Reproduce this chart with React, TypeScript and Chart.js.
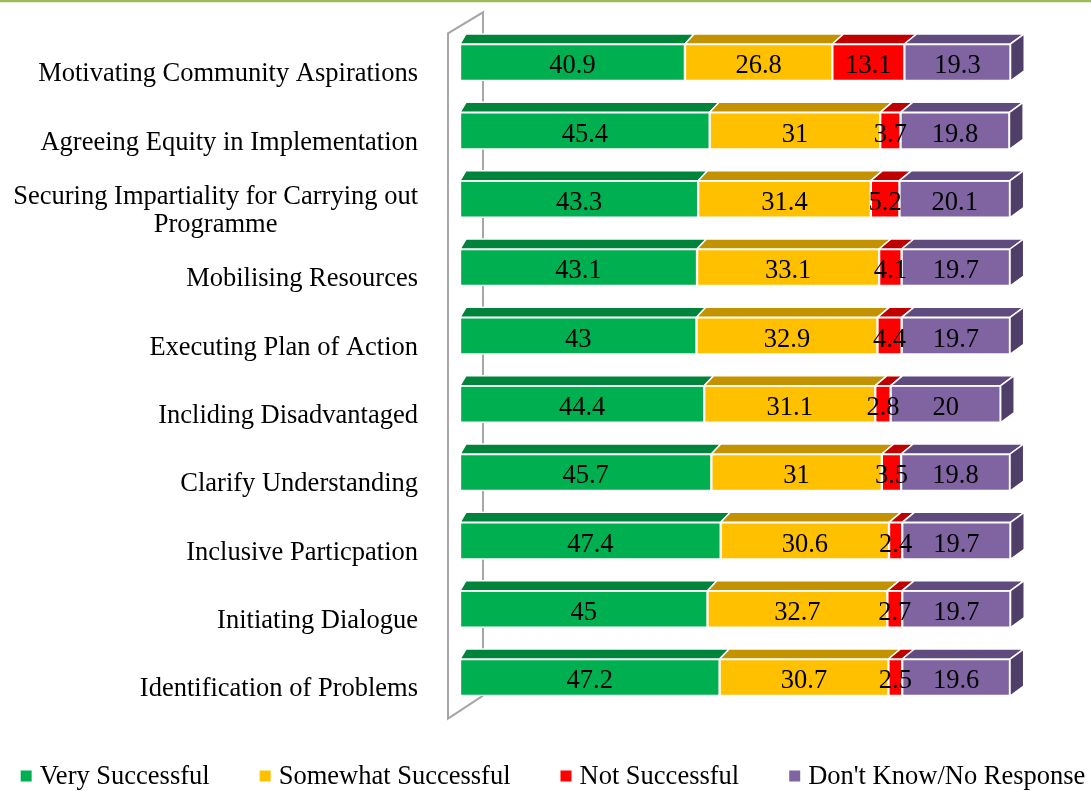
import React, { useEffect, useRef } from "react";
import { Chart, registerables } from "chart.js";

Chart.register(...registerables);

const categories: (string | string[])[] = [
  "Motivating Community Aspirations",
  "Agreeing Equity in Implementation",
  ["Securing Impartiality for Carrying out", "Programme"],
  "Mobilising Resources",
  "Executing Plan of Action",
  "Incliding Disadvantaged",
  "Clarify Understanding",
  "Inclusive Particpation",
  "Initiating Dialogue",
  "Identification of Problems",
];

const seriesLabels = ["Very Successful", "Somewhat Successful", "Not Successful", "Don't Know/No Response"];
const verySuccessful = [40.9, 45.4, 43.3, 43.1, 43, 44.4, 45.7, 47.4, 45, 47.2];
const somewhatSuccessful = [26.8, 31, 31.4, 33.1, 32.9, 31.1, 31, 30.6, 32.7, 30.7];
const notSuccessful = [13.1, 3.7, 5.2, 4.1, 4.4, 2.8, 3.5, 2.4, 2.7, 2.5];
const dontKnow = [19.3, 19.8, 20.1, 19.7, 19.7, 20, 19.8, 19.7, 19.7, 19.6];

const frontColors = ["#00B050", "#FFC000", "#FF0000", "#8064A2"];
const topColors = ["#00843C", "#C29200", "#C00000", "#5F4B7D"];
const sideColor = "#4F3E67";
const FONT = '"Liberation Serif", "Times New Roman", serif';
const FS = 26.5;

const depthX = (x: number, left: number) => 6 + (x - left) * 0.014;
const DY = 10;

const threeD = {
  id: "threeD",
  beforeDatasetsDraw(chart: any) {
    const ctx = chart.ctx;
    const { left, top, bottom } = chart.chartArea;
    ctx.save();
    ctx.strokeStyle = "#9BBB59";
    ctx.lineWidth = 2.5;
    ctx.beginPath();
    ctx.moveTo(0, 1);
    ctx.lineTo(chart.width, 1);
    ctx.stroke();

    ctx.strokeStyle = "#A6A6A6";
    ctx.lineWidth = 2;
    const fx = left - 12;
    const bx = left + 23;
    ctx.beginPath();
    ctx.moveTo(bx, bottom - 16);
    ctx.lineTo(bx, top - 16);
    ctx.lineTo(fx, top + 5);
    ctx.lineTo(fx, bottom + 7);
    ctx.lineTo(bx, bottom - 16);
    ctx.stroke();
    ctx.restore();
  },
  afterDatasetsDraw(chart: any) {
    const ctx = chart.ctx;
    const left = chart.chartArea.left;
    ctx.save();
    ctx.lineWidth = 1.5;
    ctx.strokeStyle = "#FFFFFF";
    ctx.lineJoin = "round";
    const n = chart.data.labels.length;
    const nd = chart.data.datasets.length;
    for (let i = 0; i < n; i++) {
      for (let d = 0; d < nd; d++) {
        const el = chart.getDatasetMeta(d).data[i];
        const p = el.getProps(["x", "base", "y", "height"], true);
        const x0 = Math.min(p.x, p.base);
        const x1 = Math.max(p.x, p.base);
        const yt = p.y - p.height / 2;
        const yb = p.y + p.height / 2;
        ctx.fillStyle = topColors[d];
        ctx.beginPath();
        ctx.moveTo(x0, yt);
        ctx.lineTo(x0 + depthX(x0, left), yt - DY);
        ctx.lineTo(x1 + depthX(x1, left), yt - DY);
        ctx.lineTo(x1, yt);
        ctx.closePath();
        ctx.fill();
        ctx.stroke();
        if (d === nd - 1) {
          const dx = depthX(x1, left);
          ctx.fillStyle = sideColor;
          ctx.beginPath();
          ctx.moveTo(x1, yt);
          ctx.lineTo(x1 + dx, yt - DY);
          ctx.lineTo(x1 + dx, yb - DY);
          ctx.lineTo(x1, yb);
          ctx.closePath();
          ctx.fill();
          ctx.stroke();
        }
      }
    }
    // data labels
    ctx.fillStyle = "#000000";
    ctx.font = `${FS}px ${FONT}`;
    ctx.textAlign = "center";
    ctx.textBaseline = "middle";
    for (let d = 0; d < nd; d++) {
      const meta = chart.getDatasetMeta(d);
      meta.data.forEach((el: any, i: number) => {
        const p = el.getProps(["x", "base", "y"], true);
        const v = chart.data.datasets[d].data[i];
        ctx.fillText(String(v), (p.x + p.base) / 2, p.y + 4);
      });
    }
    ctx.restore();
  },
  afterDraw(chart: any) {
    const ctx = chart.ctx;
    const yScale = chart.scales.y;
    const left = chart.chartArea.left;
    ctx.save();
    ctx.fillStyle = "#000000";
    ctx.font = `${FS}px ${FONT}`;
    ctx.textBaseline = "middle";
    const rightX = left - 42;
    chart.data.labels.forEach((lab: string | string[], i: number) => {
      const cy = yScale.getPixelForValue(i) + 12;
      if (Array.isArray(lab)) {
        const widths = lab.map((s) => ctx.measureText(s).width);
        const maxW = Math.max(...widths);
        const cx = rightX - maxW / 2;
        ctx.textAlign = "center";
        const lh = 28;
        const startY = cy - ((lab.length - 1) * lh) / 2;
        lab.forEach((s, k) => ctx.fillText(s, cx, startY + k * lh));
      } else {
        ctx.textAlign = "right";
        ctx.fillText(lab, rightX, cy);
      }
    });

    // legend
    const box = 11;
    const gapBT = 8;
    const spacing = 50;
    const items = chart.data.datasets.map((ds: any) => ({
      text: ds.label,
      color: ds.backgroundColor,
      w: ctx.measureText(ds.label).width,
    }));
    const total = items.reduce((s: number, it: any) => s + box + gapBT + it.w, 0) + spacing * (items.length - 1);
    let x = 553 - total / 2;
    const ly = 776;
    ctx.textAlign = "left";
    items.forEach((it: any) => {
      ctx.fillStyle = it.color;
      ctx.fillRect(x, ly - box / 2, box, box);
      ctx.fillStyle = "#000000";
      ctx.fillText(it.text, x + box + gapBT, ly + 1);
      x += box + gapBT + it.w + spacing;
    });
    ctx.restore();
  },
};

export default function App() {
  const ref = useRef<HTMLCanvasElement | null>(null);
  useEffect(() => {
    if (!ref.current) return;
    const seriesData = [verySuccessful, somewhatSuccessful, notSuccessful, dontKnow];
    const chart = new Chart(ref.current, {
      type: "bar",
      data: {
        labels: categories as any,
        datasets: seriesData.map((data, d) => ({
          label: seriesLabels[d],
          data,
          backgroundColor: frontColors[d],
          borderColor: "#FFFFFF",
          borderWidth: 1.5,
          borderSkipped: false,
          barThickness: 37,
          clip: false as any,
        })),
      },
      options: {
        indexAxis: "y",
        animation: false,
        responsive: true,
        maintainAspectRatio: false,
        layout: { padding: { left: 460, right: 81, top: 28.3, bottom: 79.3 } },
        scales: {
          x: { stacked: true, min: 0, max: 100, display: false },
          y: { stacked: true, display: false },
        },
        plugins: {
          legend: { display: false },
          tooltip: { enabled: false },
        },
      },
      plugins: [threeD],
    });
    return () => chart.destroy();
  }, []);
  return (
    <div style={{ position: "absolute", left: 0, top: 0, width: 1091, height: 791, background: "#FFFFFF" }}>
      <canvas ref={ref} />
    </div>
  );
}
